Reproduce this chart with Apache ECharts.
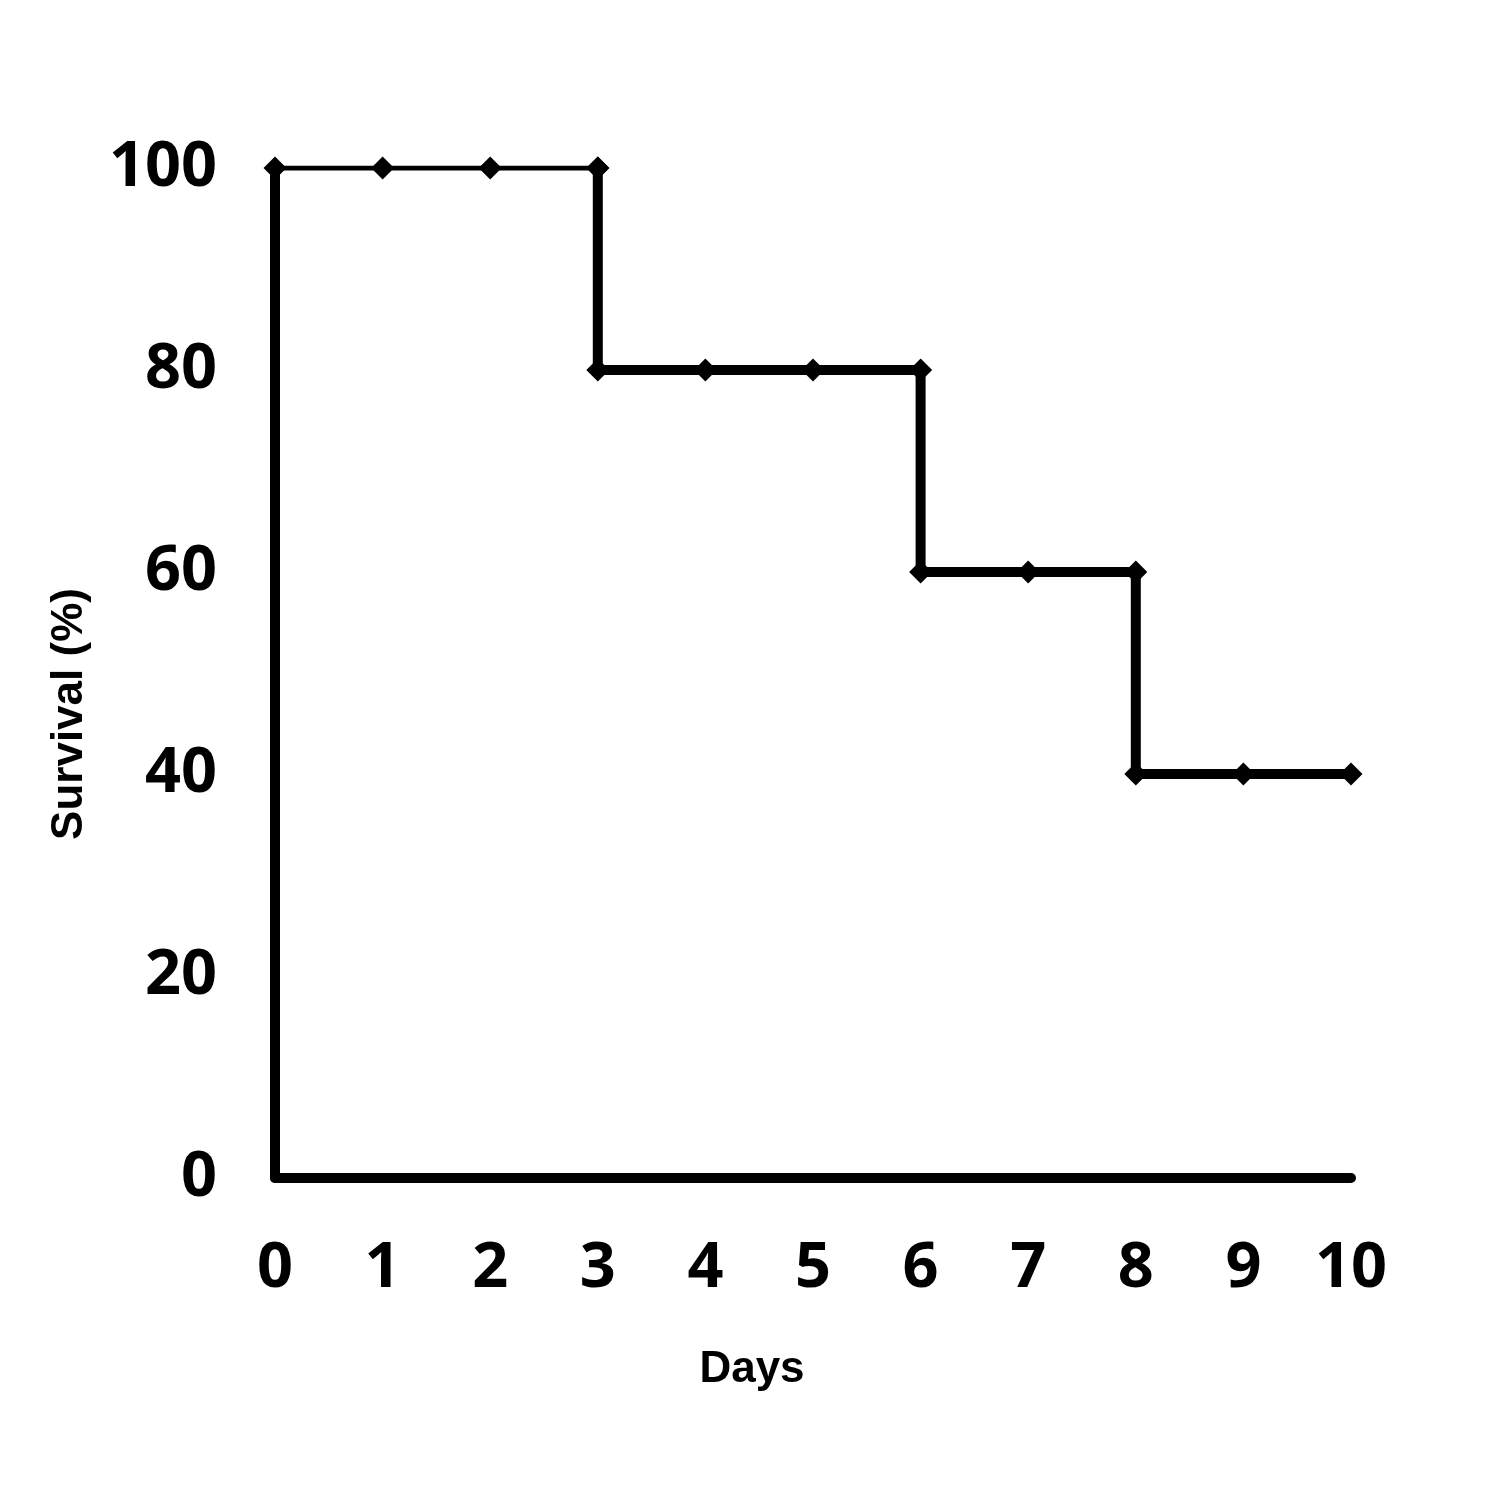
<!DOCTYPE html>
<html>
<head>
<meta charset="utf-8">
<script src="https://cdn.jsdelivr.net/npm/echarts@6/dist/echarts.min.js"></script>
<style>html,body{margin:0;padding:0;background:#fff;}#c{width:1503px;height:1503px;}</style>
</head>
<body>
<div id="c"></div>
<script>
const days =     [0,   1,   2,   3,   3,  4,  5,  6,  6,  7,  8,  8,  9,  10];
const survival = [100, 100, 100, 100, 80, 80, 80, 80, 60, 60, 60, 40, 40, 40];
const xTicks = [0,1,2,3,4,5,6,7,8,9,10];
const yTicks = [0,20,40,60,80,100];

const yMax = yTicks[yTicks.length-1];
const pts = days.map((d, i) => [d, survival[i]]);
// the stretch lying on the top edge of the plot is drawn half-clipped in the original
let lastTop = 0;
pts.forEach((p, i) => { if (p[1] === yMax) lastTop = i; });
const topPts = pts.slice(0, lastTop + 1);
const restPts = pts.slice(lastTop);

const chart = echarts.init(document.getElementById('c'), null, {renderer:'canvas'});
const common = {
  type: 'line', symbol: 'diamond', symbolSize: 23, showAllSymbol: true,
  itemStyle: {color: '#000'}, z: 3
};
chart.setOption({
  backgroundColor: '#ffffff',
  animation: false,
  grid: {left: 275, right: 152, top: 168, bottom: 325, containLabel: false},
  xAxis: {
    type: 'value', min: xTicks[0], max: xTicks[xTicks.length-1], interval: 1,
    name: 'Days', nameLocation: 'middle', nameGap: 170,
    nameTextStyle: {fontFamily: 'Liberation Sans', fontWeight: 'bold', fontSize: 44, color: '#000', padding: [0, 122, 0, 0]},
    axisLine: {show: true, lineStyle: {color: '#000', width: 10}},
    axisTick: {show: false},
    splitLine: {show: false},
    axisLabel: {margin: 60, fontFamily: 'Open Sans', fontWeight: 'bold', fontSize: 63, color: '#000'}
  },
  yAxis: {
    type: 'value', min: yTicks[0], max: yMax, interval: 20,
    name: 'Survival (%)', nameLocation: 'middle', nameGap: 183, nameRotate: 90,
    nameTextStyle: {fontFamily: 'Liberation Sans', fontWeight: 'bold', fontSize: 44, color: '#000', padding: [0, 82, 0, 0]},
    axisLine: {show: true, lineStyle: {color: '#000', width: 10}},
    axisTick: {show: false},
    splitLine: {show: false},
    axisLabel: {margin: 58, padding: [6, 0, 0, 0], fontFamily: 'Open Sans', fontWeight: 'bold', fontSize: 63, color: '#000'}
  },
  series: [
    Object.assign({}, common, {data: topPts, lineStyle: {color: '#000', width: 5}}),
    Object.assign({}, common, {data: restPts, lineStyle: {color: '#000', width: 10}})
  ]
});
</script>
</body>
</html>
